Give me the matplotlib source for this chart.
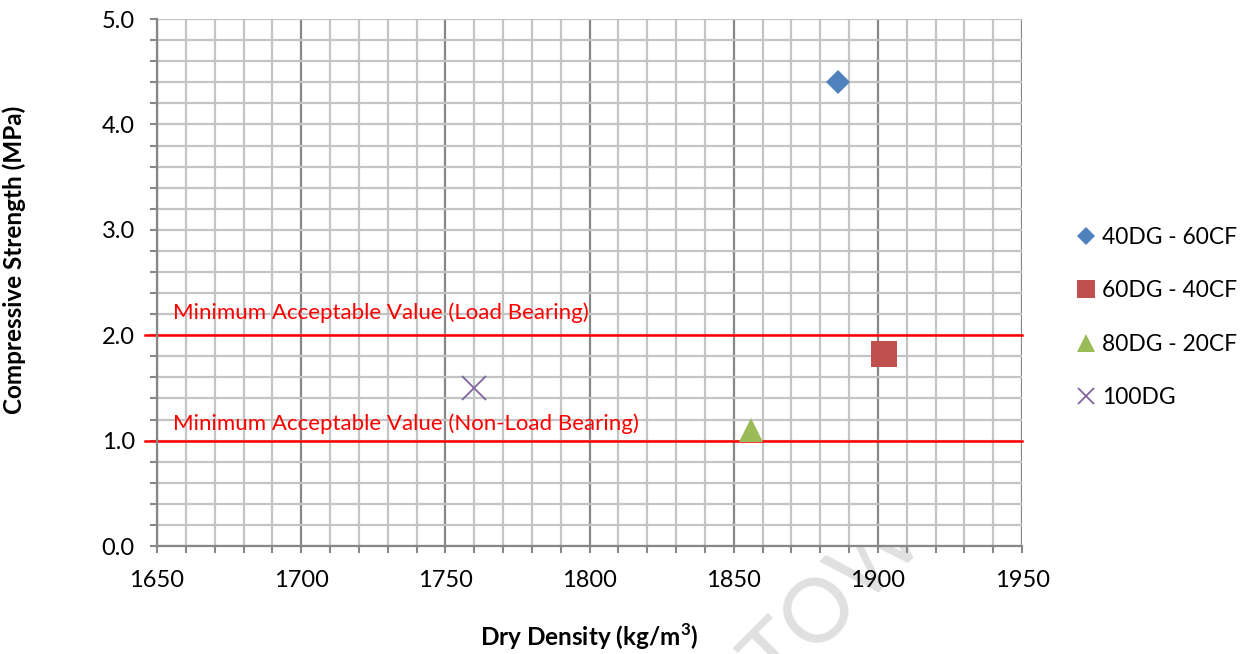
import matplotlib
matplotlib.use('Agg')
import matplotlib.pyplot as plt
from matplotlib.ticker import MultipleLocator, FormatStrFormatter

plt.rcParams['font.family'] = ['Lato', 'DejaVu Sans']

# Mix results: dry density vs compressive strength
mixes = ['40DG - 60CF', '60DG - 40CF', '80DG - 20CF', '100DG']
dry_density = [1886, 1902, 1856, 1760]
strength = [4.4, 1.82, 1.1, 1.5]
markers = ['D', 's', '^', 'x']
colors = ['#4F81BD', '#C0504D', '#9BBB59', '#8064A2']
sizes = [12.7, 18.5, 17.5, 17]

# Minimum acceptable values
limit_values = [2.0, 1.0]
limit_labels = ['Minimum Acceptable Value (Load Bearing)',
                'Minimum Acceptable Value (Non-Load Bearing)']
limit_label_y = [2.21, 1.16]

fig = plt.figure(figsize=(12.49, 6.54), dpi=100)
ax = fig.add_axes([0.1257, 0.1651, 0.6926, 0.8058])

ax.set_xlim(1650, 1950)
ax.set_ylim(0, 5)
ax.xaxis.set_major_locator(MultipleLocator(50))
ax.xaxis.set_minor_locator(MultipleLocator(10))
ax.yaxis.set_major_locator(MultipleLocator(1))
ax.yaxis.set_minor_locator(MultipleLocator(0.2))
ax.yaxis.set_major_formatter(FormatStrFormatter('%.1f'))

ax.grid(True, axis='x', which='major', color='#878787', lw=1.6)
ax.grid(True, axis='x', which='minor', color='#c4c4c4', lw=1.6)
ax.grid(True, axis='y', which='both', color='#c4c4c4', lw=1.6)
ax.set_axisbelow(True)

for side in ['top', 'right']:
    ax.spines[side].set_visible(False)
for side in ['left', 'bottom']:
    ax.spines[side].set_color('#878787')
    ax.spines[side].set_linewidth(1.6)

ax.tick_params(axis='both', which='both', direction='out', color='#878787',
               width=1.5, labelsize=17)
ax.tick_params(axis='x', which='both', length=5, pad=12)
ax.tick_params(axis='y', which='both', length=5, pad=11)

for val, label, ty in zip(limit_values, limit_labels, limit_label_y):
    ax.plot([1646, 1950], [val, val], color='#FF0000', lw=1.8, clip_on=False, zorder=2)
    ax.text(1655.5, ty, label, color='#FF0000', fontsize=16, va='center', ha='left')

for name, x, y, m, c, s in zip(mixes, dry_density, strength, markers, colors, sizes):
    if m == 'x':
        ax.plot(x, y, linestyle='none', marker=m, color=c, markersize=s,
                markeredgewidth=1.3, label=name, zorder=3)
    else:
        ax.plot(x, y, linestyle='none', marker=m, color=c, markersize=s,
                markeredgewidth=0, label=name, zorder=3)

leg = ax.legend(loc='center left', bbox_to_anchor=(0.853, 0.5145),
                bbox_transform=fig.transFigure, frameon=False, fontsize=16.4,
                handlelength=0.8, handletextpad=0.3, labelspacing=1.42,
                borderpad=0, markerscale=0.7)

ax.set_xlabel('Dry Density (kg/m$^\\mathregular{3}$)', fontsize=17.5, fontweight='bold')
ax.set_ylabel('Compressive Strength (MPa)', fontsize=17.5, fontweight='bold')
ax.xaxis.set_label_coords(0.5, -0.143)
ax.yaxis.set_label_coords(-0.152, 0.543)

# faint watermark behind the plot area
fig.text(0.622, -0.06, 'TOWN', fontsize=64, color='#e0e0e0', rotation=45,
         rotation_mode='anchor', ha='left', va='baseline', zorder=-1)

fig.savefig('out.png', dpi=100)
